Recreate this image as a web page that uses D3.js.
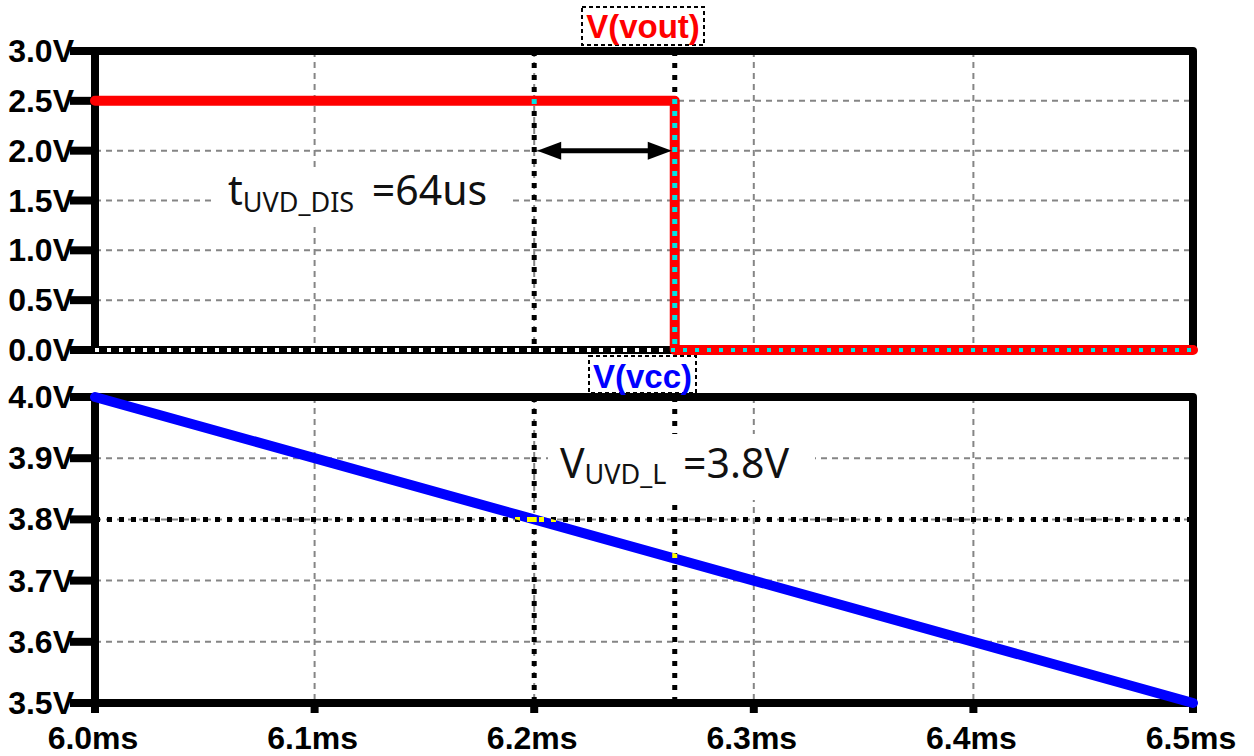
<!DOCTYPE html>
<html>
<head>
<meta charset="utf-8">
<script src="https://cdn.jsdelivr.net/npm/d3@7"></script>
<style>
  body { margin: 0; background: #fff; }
  svg { display: block; }
  .tick-label { font-family: "Liberation Sans", Arial, sans-serif; font-weight: bold; font-size: 32px; fill: #000; }
  .note { font-family: "Noto Sans", sans-serif; fill: #111; }
  .trace-title { font-family: "Liberation Sans", Arial, sans-serif; font-weight: bold; font-size: 33px; }
</style>
</head>
<body>
<div id="chart"></div>
<script>
// time axis (ms)
const timeTicks = [6.0, 6.1, 6.2, 6.3, 6.4, 6.5];
const timeLabels = ["6.0ms", "6.1ms", "6.2ms", "6.3ms", "6.4ms", "6.5ms"];

// upper pane: V(vout)
const voutTicks = [0, 0.5, 1.0, 1.5, 2.0, 2.5, 3.0];
const voutLabels = ["0.0V", "0.5V", "1.0V", "1.5V", "2.0V", "2.5V", "3.0V"];
const voutTime = [6.0, 6.264, 6.264, 6.5];
const voutValue = [2.5, 2.5, 0, 0];

// lower pane: V(vcc)
const vccTicks = [3.5, 3.6, 3.7, 3.8, 3.9, 4.0];
const vccLabels = ["3.5V", "3.6V", "3.7V", "3.8V", "3.9V", "4.0V"];
const vccTime = [6.0, 6.5];
const vccValue = [4.0, 3.5];

// cursors
const cursorTime = [6.2, 6.264];
const cursorVcc = 3.8;

const W = 1254, H = 756;

const svg = d3.select("#chart").append("svg")
  .attr("width", W)
  .attr("height", H);

// scales
const x = d3.scaleLinear().domain([6.0, 6.5]).range([95, 1193]);
const yTop = d3.scaleLinear().domain([0, 3.0]).range([350, 51]);
const yBot = d3.scaleLinear().domain([3.5, 4.0]).range([703, 397]);

const voutData = voutTime.map((t, i) => ({t: t, v: voutValue[i]}));
const vccData = vccTime.map((t, i) => ({t: t, v: vccValue[i]}));

const lineTop = d3.line().x(d => x(d.t)).y(d => yTop(d.v));
const lineBot = d3.line().x(d => x(d.t)).y(d => yBot(d.v));

// masks so cursor dots crossing a trace show the xor colour (like LTspice)
const defs = svg.append("defs");
function traceMask(id, path) {
  const m = defs.append("mask").attr("id", id)
    .attr("maskUnits", "userSpaceOnUse")
    .attr("x", 0).attr("y", 0).attr("width", W).attr("height", H);
  m.append("rect").attr("width", W).attr("height", H).attr("fill", "#000");
  m.append("path").attr("d", path).attr("fill", "none")
    .attr("stroke", "#fff").attr("stroke-width", 10)
    .attr("stroke-linecap", "round").attr("stroke-linejoin", "round");
}
traceMask("redMask", lineTop(voutData));
traceMask("blueMask", lineBot(vccData));

// grid
const grid = svg.append("g")
  .attr("stroke", "#858585")
  .attr("stroke-width", 2)
  .attr("stroke-dasharray", "6 5");

grid.selectAll(".gy-top")
  .data(voutTicks.slice(1, -1))
  .enter().append("line")
  .attr("x1", x(6.0)).attr("x2", x(6.5))
  .attr("y1", d => yTop(d)).attr("y2", d => yTop(d));

grid.selectAll(".gy-bot")
  .data(vccTicks.slice(1, -1))
  .enter().append("line")
  .attr("x1", x(6.0)).attr("x2", x(6.5))
  .attr("y1", d => yBot(d)).attr("y2", d => yBot(d));

[yTop, yBot].forEach(ys => {
  grid.append("g").selectAll("line")
    .data(timeTicks.slice(1, -1))
    .enter().append("line")
    .attr("x1", d => x(d)).attr("x2", d => x(d))
    .attr("y1", ys.range()[1]).attr("y2", ys.range()[0]);
});

// cursors
function drawCursors(g) {
  [yTop, yBot].forEach(ys => {
    g.append("g").selectAll("line")
      .data(cursorTime)
      .enter().append("line")
      .attr("x1", d => x(d)).attr("x2", d => x(d))
      .attr("y1", ys.range()[1]).attr("y2", ys.range()[0]);
  });
  g.append("line")
    .attr("x1", x(6.0)).attr("x2", x(6.5))
    .attr("y1", yBot(cursorVcc)).attr("y2", yBot(cursorVcc));
}
const cursors = svg.append("g")
  .attr("stroke", "#000")
  .attr("stroke-width", 5)
  .attr("stroke-dasharray", "5 7");
drawCursors(cursors);

// annotation boxes (white background hides grid / cursor behind text)
svg.append("rect").attr("x", 212).attr("y", 168).attr("width", 300).attr("height", 58).attr("fill", "#fff");
svg.append("rect").attr("x", 548).attr("y", 434).attr("width", 267).attr("height", 66).attr("fill", "#fff");

const tNote = svg.append("text").attr("class", "note")
  .attr("x", 228).attr("y", 205).attr("font-size", 41);
tNote.append("tspan").text("t");
tNote.append("tspan").attr("font-size", 27).attr("dy", 7).text("UVD_DIS");
tNote.append("tspan").attr("dy", -7).attr("dx", 7).text(" =64us");

const vNote = svg.append("text").attr("class", "note")
  .attr("x", 560).attr("y", 478).attr("font-size", 41);
vNote.append("tspan").text("V");
vNote.append("tspan").attr("font-size", 27).attr("dy", 6).text("UVD_L");
vNote.append("tspan").attr("dy", -6).attr("dx", 6).text(" =3.8V");

// frames
const frame = svg.append("g")
  .attr("fill", "none")
  .attr("stroke", "#000")
  .attr("stroke-width", 8)
  .attr("stroke-linejoin", "round");

[yTop, yBot].forEach(ys => {
  frame.append("rect")
    .attr("x", x(6.0)).attr("y", ys.range()[1])
    .attr("width", x(6.5) - x(6.0))
    .attr("height", ys.range()[0] - ys.range()[1]);
});

// left tick stubs
frame.append("g").selectAll("line")
  .data(voutTicks).enter().append("line")
  .attr("x1", 70).attr("x2", x(6.0))
  .attr("y1", d => yTop(d)).attr("y2", d => yTop(d));
frame.append("g").selectAll("line")
  .data(vccTicks).enter().append("line")
  .attr("x1", 70).attr("x2", x(6.0))
  .attr("y1", d => yBot(d)).attr("y2", d => yBot(d));

// bottom tick stubs
frame.append("g").selectAll("line")
  .data(timeTicks).enter().append("line")
  .attr("x1", d => x(d)).attr("x2", d => x(d))
  .attr("y1", yBot(3.5)).attr("y2", yBot(3.5) + 10);

// traces
svg.append("path")
  .datum(voutData)
  .attr("d", lineTop)
  .attr("fill", "none")
  .attr("stroke", "#ff0000")
  .attr("stroke-width", 10)
  .attr("stroke-linecap", "round")
  .attr("stroke-linejoin", "round");

svg.append("path")
  .datum(vccData)
  .attr("d", lineBot)
  .attr("fill", "none")
  .attr("stroke", "#0000ff")
  .attr("stroke-width", 10)
  .attr("stroke-linecap", "round");

// dotted trace along 0 V (white over the black frame, cyan over the red trace)
const zeroLine = [{t: 6.0, v: 0}, {t: 6.5, v: 0}];
svg.append("path")
  .attr("d", lineTop(zeroLine))
  .attr("stroke", "#fff").attr("stroke-width", 4)
  .attr("stroke-dasharray", "4 8");
svg.append("path")
  .attr("d", lineTop(zeroLine))
  .attr("stroke", "#00e5e5").attr("stroke-width", 4)
  .attr("stroke-dasharray", "4 8")
  .attr("mask", "url(#redMask)");

// xor colouring where the cursor dots cross the traces
const cyanCursors = svg.append("g")
  .attr("stroke", "#00e5e5").attr("stroke-width", 5)
  .attr("stroke-dasharray", "5 7")
  .attr("mask", "url(#redMask)");
drawCursors(cyanCursors);

const yellowCursors = svg.append("g")
  .attr("stroke", "#ffff00").attr("stroke-width", 5)
  .attr("stroke-dasharray", "5 7")
  .attr("mask", "url(#blueMask)");
drawCursors(yellowCursors);

// double arrow between cursors
const ay = yTop(2.0);
const ax1 = x(cursorTime[0]) + 3, ax2 = x(cursorTime[1]) - 3;
svg.append("line")
  .attr("x1", ax1 + 10).attr("x2", ax2 - 10)
  .attr("y1", ay).attr("y2", ay)
  .attr("stroke", "#000").attr("stroke-width", 5);
svg.append("path")
  .attr("d", `M${ax1},${ay} L${ax1 + 24},${ay - 9} L${ax1 + 24},${ay + 9} Z`)
  .attr("fill", "#000");
svg.append("path")
  .attr("d", `M${ax2},${ay} L${ax2 - 24},${ay - 9} L${ax2 - 24},${ay + 9} Z`)
  .attr("fill", "#000");

// tick labels
svg.append("g").selectAll("text")
  .data(voutTicks).enter().append("text")
  .attr("class", "tick-label")
  .attr("x", 74)
  .attr("y", d => yTop(d) + 11)
  .attr("text-anchor", "end")
  .text((d, i) => voutLabels[i]);

svg.append("g").selectAll("text")
  .data(vccTicks).enter().append("text")
  .attr("class", "tick-label")
  .attr("x", 74)
  .attr("y", d => yBot(d) + 11)
  .attr("text-anchor", "end")
  .text((d, i) => vccLabels[i]);

svg.append("g").selectAll("text")
  .data(timeTicks).enter().append("text")
  .attr("class", "tick-label")
  .attr("x", d => x(d) - 2)
  .attr("y", 749)
  .attr("text-anchor", "middle")
  .text((d, i) => timeLabels[i]);

// trace titles
function traceTitle(label, color, bx, by, bw, bh, ty) {
  svg.append("rect")
    .attr("x", bx).attr("y", by).attr("width", bw).attr("height", bh)
    .attr("fill", "#fff")
    .attr("stroke", "#000").attr("stroke-width", 2)
    .attr("stroke-dasharray", "4 3");
  svg.append("text")
    .attr("class", "trace-title")
    .attr("x", bx + bw / 2).attr("y", ty)
    .attr("text-anchor", "middle")
    .attr("fill", color)
    .text(label);
}
traceTitle("V(vout)", "#ff0000", 582, 7, 122, 38, 38);
traceTitle("V(vcc)", "#0000ff", 589, 356, 107, 37, 388);
</script>
</body>
</html>
